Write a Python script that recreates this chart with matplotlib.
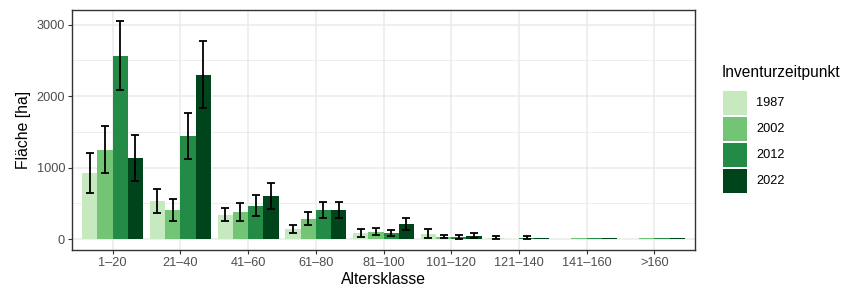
import matplotlib

matplotlib.use("Agg")
import matplotlib.pyplot as plt
import numpy as np
from matplotlib.patches import Rectangle
from matplotlib.ticker import MultipleLocator

plt.rcParams["font.family"] = ["Liberation Sans", "DejaVu Sans"]

# data (area in ha per age class and inventory year)
classes = ["1\u201320", "21\u201340", "41\u201360", "61\u201380", "81\u2013100",
           "101\u2013120", "121\u2013140", "141\u2013160", ">160"]
years = ["1987", "2002", "2012", "2022"]
area_1987 = [927, 536, 340, 144, 88, 74, 18, 6, 5]
area_2002 = [1249, 410, 382, 284, 102, 32, 7, 8, 8]
area_2012 = [2563, 1445, 466, 410, 88, 32, 18, 8, 8]
area_2022 = [1137, 2298, 606, 410, 214, 46, 8, 8, 8]
err_1987 = [284, 166, 91, 54, 56, 61, 22, 0, 0]
err_2002 = [331, 151, 126, 93, 46, 24, 0, 0, 0]
err_2012 = [483, 324, 149, 112, 42, 26, 20, 0, 0]
err_2022 = [321, 469, 180, 110, 82, 35, 0, 0, 0]

colors = ["#c7e9c0", "#74c476", "#238b45", "#00441b"]
_INK = "#333333"
_GRID = "#ebebeb"

areas = [area_1987, area_2002, area_2012, area_2022]
errs = [err_1987, err_2002, err_2012, err_2022]

W, H = 848, 288
fig = plt.figure(figsize=(W / 100, H / 100), dpi=100)
ax = fig.add_axes([72 / W, (H - 250) / H, 623 / W, 240 / H])

x = np.arange(1, len(classes) + 1)
bw = 0.225
for i, (vals, ee) in enumerate(zip(areas, errs)):
    xs = x + (i - 1.5) * bw
    ax.bar(xs, vals, width=bw, color=colors[i], linewidth=0, zorder=2)
    shown = [j for j, e in enumerate(ee) if e > 0]
    ax.errorbar(xs[shown], np.array(vals)[shown], yerr=np.array(ee)[shown], fmt="none",
                ecolor="black", elinewidth=1.3, capsize=2.6, capthick=1.3, zorder=3)

ax.set_xlim(0.4, len(classes) + 0.6)
ax.set_ylim(-153, 3207)
ax.set_xticks(x)
ax.set_xticklabels(classes)
ax.yaxis.set_major_locator(MultipleLocator(1000))
ax.yaxis.set_minor_locator(MultipleLocator(500))
ax.grid(which="major", color=_GRID, linewidth=1.1, zorder=0)
ax.grid(which="minor", axis="y", color=_GRID, linewidth=0.6, zorder=0)
ax.set_axisbelow(True)
for s in ax.spines.values():
    s.set_color(_INK)
    s.set_linewidth(1.0)
ax.tick_params(which="major", colors=_INK, labelcolor="#4d4d4d", labelsize=9.2,
               length=3, width=0.8, pad=2)
ax.tick_params(which="minor", length=0)
ax.set_xlabel("Altersklasse", fontsize=11.3, color="black", labelpad=2)
ax.set_ylabel("Fläche [ha]", fontsize=11.3, color="black", labelpad=4)

# legend on the right, ggplot style
fig.text(722 / W, 1 - 73 / H, "Inventurzeitpunkt", fontsize=11.2, va="center", ha="left")
for i, yr in enumerate(years):
    top = 90.7 + i * 26.2
    fig.patches.append(Rectangle((722.5 / W, 1 - (top + 24) / H), 24 / W, 24 / H,
                                 transform=fig.transFigure, color=colors[i], linewidth=0))
    fig.text(756 / W, 1 - (top + 12) / H, yr, fontsize=9.2, va="center", ha="left")

fig.savefig("out.png", dpi=100, facecolor="white")
